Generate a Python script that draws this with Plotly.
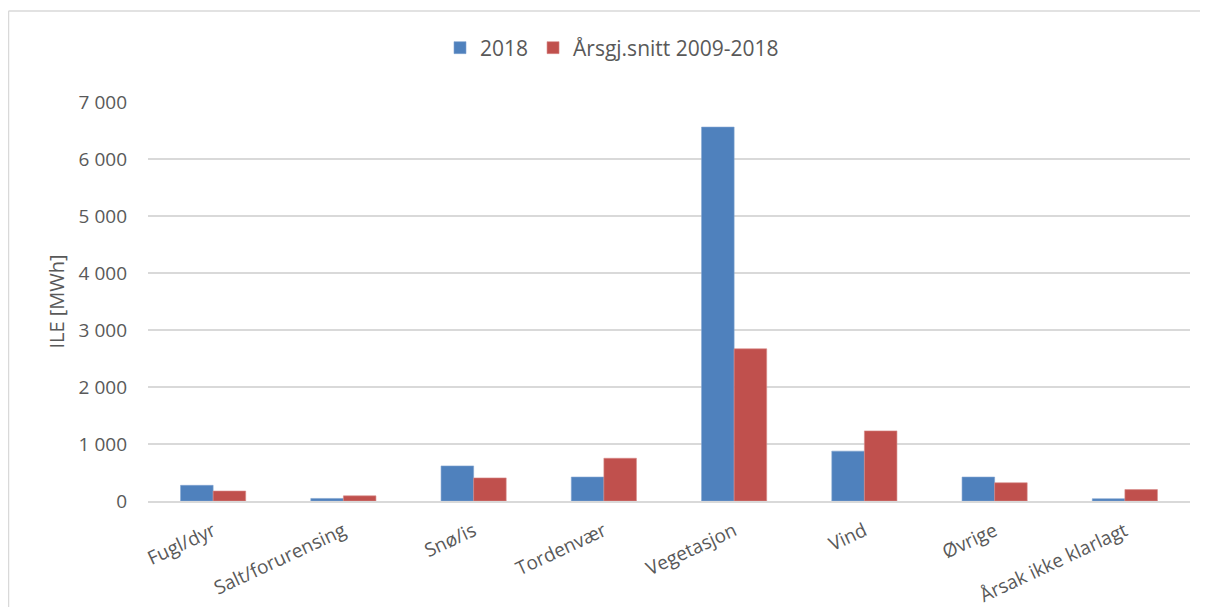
import plotly.graph_objects as go

categories = ["Fugl/dyr", "Salt/forurensing", "Snø/is", "Tordenvær",
              "Vegetasjon", "Vind", "Øvrige", "Årsak ikke klarlagt"]
ile_2018 = [275, 45, 615, 420, 6560, 875, 420, 40]
ile_avg_2009_2018 = [175, 90, 405, 750, 2670, 1230, 320, 200]
y_ticks = [0, 1000, 2000, 3000, 4000, 5000, 6000, 7000]
y_tick_labels = ["0", "1 000", "2 000", "3 000", "4 000", "5 000", "6 000", "7 000"]

font_col = "#595959"
fnt = "Open Sans, Liberation Sans, sans-serif"

fig = go.Figure()
fig.add_trace(go.Bar(x=categories, y=ile_2018, name="2018",
                     marker=dict(color="#4F81BD", line=dict(color="#7FA3D0", width=0.6))))
fig.add_trace(go.Bar(x=categories, y=ile_avg_2009_2018, name="Årsgj.snitt 2009-2018",
                     marker=dict(color="#C0504D", line=dict(color="#D88A88", width=0.6))))

# page has an 8px body margin, so work in figure pixels (page px - 8)
W, L, T, B = 1042, 140, 94, 399
def px(x):
    return (x - 8 - L) / W
def py(y):
    return (T + B - (y - 8)) / B

# chart frame (only top and left edges visible in the picture)
fig.add_shape(type="line", xref="paper", yref="paper",
              x0=px(8.5), x1=px(1210), y0=py(11), y1=py(11),
              line=dict(color="#D9D9D9", width=1.5))
fig.add_shape(type="line", xref="paper", yref="paper",
              x0=px(8.5), x1=px(8.5), y0=py(11), y1=py(610),
              line=dict(color="#D9D9D9", width=1.5))

fig.update_layout(
    width=1200, height=599,
    margin=dict(l=140, r=18, t=94, b=106),
    paper_bgcolor="white", plot_bgcolor="white",
    barmode="group", bargap=0.5, bargroupgap=0,
    font=dict(family=fnt, color=font_col, size=19),
    legend=dict(orientation="h", x=px(612), xanchor="center",
                y=py(48), yanchor="middle", font=dict(size=21),
                itemwidth=30, traceorder="normal"),
    xaxis=dict(tickangle=-25, tickfont=dict(size=19), showgrid=False,
               showline=True, linecolor="#D9D9D9", linewidth=1.5,
               ticks="", ticklabelstandoff=10, automargin=False),
    yaxis=dict(range=[0, 7000], tickvals=y_ticks, ticktext=y_tick_labels,
               showgrid=True, gridcolor="#D9D9D9", gridwidth=1.5,
               zeroline=False, showline=False, ticks="", automargin=False,
               ticklabelstandoff=20, tickfont=dict(size=19),
               title=dict(text="ILE [MWh]", font=dict(size=20), standoff=8)),
)

fig.write_html("out.html")
